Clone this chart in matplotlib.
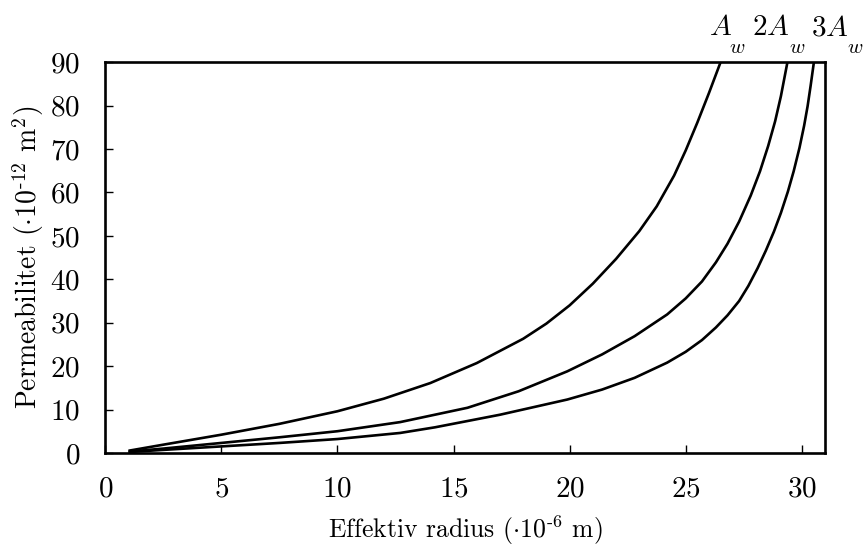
import matplotlib
matplotlib.use("Agg")
import matplotlib.pyplot as plt
import matplotlib.transforms as mtransforms

plt.rcParams['font.family'] = ['cmr10', 'DejaVu Serif']
plt.rcParams['mathtext.fontset'] = 'cm'
plt.rcParams['axes.formatter.use_mathtext'] = True

# Data
x_aw = [1.0, 2.5, 5.0, 7.5, 10.0, 12.0, 14.0, 16.0, 18.0, 19.0, 20.0, 21.0, 22.0,
        23.0, 23.75, 24.5, 25.0, 25.5, 26.0, 26.5]
y_aw = [0.5, 1.9, 4.2, 6.7, 9.6, 12.5, 16.1, 20.7, 26.3, 29.8, 34.0, 39.0, 44.7,
        51.1, 56.8, 63.9, 69.7, 76.1, 82.9, 90.0]

x_2aw = [1.0, 2.5, 5.0, 7.5, 10.0, 12.7, 15.6, 17.8, 19.9, 21.4, 22.8, 24.2, 25.0,
         25.7, 26.3, 26.8, 27.3, 27.8, 28.2, 28.55, 28.85, 29.1, 29.38]
y_2aw = [0.3, 1.0, 2.3, 3.6, 5.0, 7.1, 10.4, 14.2, 18.8, 22.7, 26.9, 31.9, 35.6,
         39.5, 43.9, 48.2, 53.3, 59.3, 64.9, 70.7, 76.4, 82.2, 90.0]

x_3aw = [1.0, 2.5, 5.0, 7.5, 10.0, 12.7, 14.2, 17.0, 19.9, 21.4, 22.8, 24.2, 25.0,
         25.7, 26.3, 26.8, 27.3, 27.7, 28.1, 28.45, 28.8, 29.1, 29.4, 29.65, 29.9,
         30.1, 30.25, 30.38, 30.52]
y_3aw = [0.2, 0.7, 1.5, 2.3, 3.2, 4.6, 5.9, 8.8, 12.3, 14.6, 17.3, 20.8, 23.3,
         26.0, 28.9, 31.7, 35.0, 38.5, 42.6, 46.6, 51.0, 55.3, 60.2, 64.9, 70.3,
         75.4, 79.9, 84.6, 90.0]

label_main = [r'$A$', r'$2A$', r'$3A$']
label_sub = r'$w$'
label_x = [26.0, 27.86, 30.4]
sub_x = [26.87, 29.45, 31.94]

x_ticks = [0, 5, 10, 15, 20, 25, 30]
y_ticks = [0, 10, 20, 30, 40, 50, 60, 70, 80, 90]

fig = plt.figure(figsize=(8.63, 5.51), dpi=100)
ax = fig.add_axes([0.122, 0.178, 0.834, 0.709])

for xs, ys in [(x_aw, y_aw), (x_2aw, y_2aw), (x_3aw, y_3aw)]:
    ax.plot(xs, ys, color='black', lw=1.9, solid_joinstyle='round',
            solid_capstyle='butt', clip_on=True)

ax.set_xlim(0, 31)
ax.set_ylim(0, 90)
ax.set_xticks(x_ticks)
ax.set_yticks(y_ticks)
ax.tick_params(direction='in', length=6, width=1.0, labelsize=21,
               top=False, right=False)
ax.tick_params(axis='x', pad=17)
ax.tick_params(axis='y', pad=18)
for s in ax.spines.values():
    s.set_linewidth(1.9)

ax.set_xlabel(r'Effektiv radius ($\cdot$10$^{\text{-6}}$ m)', fontsize=18.5, labelpad=8)
ax.set_ylabel(r'Permeabilitet ($\cdot$10$^{\text{-12}}$ m$^2$)', fontsize=20, labelpad=3)

trans = mtransforms.blended_transform_factory(ax.transData, ax.transAxes)
for lx, sx, lab in zip(label_x, sub_x, label_main):
    ax.text(lx, 1.069, lab, transform=trans, ha='left', va='baseline', fontsize=21,
            clip_on=False)
    ax.text(sx, 1.023, label_sub, transform=trans, ha='left', va='baseline',
            fontsize=15, clip_on=False)

fig.savefig('out.png', dpi=100)
